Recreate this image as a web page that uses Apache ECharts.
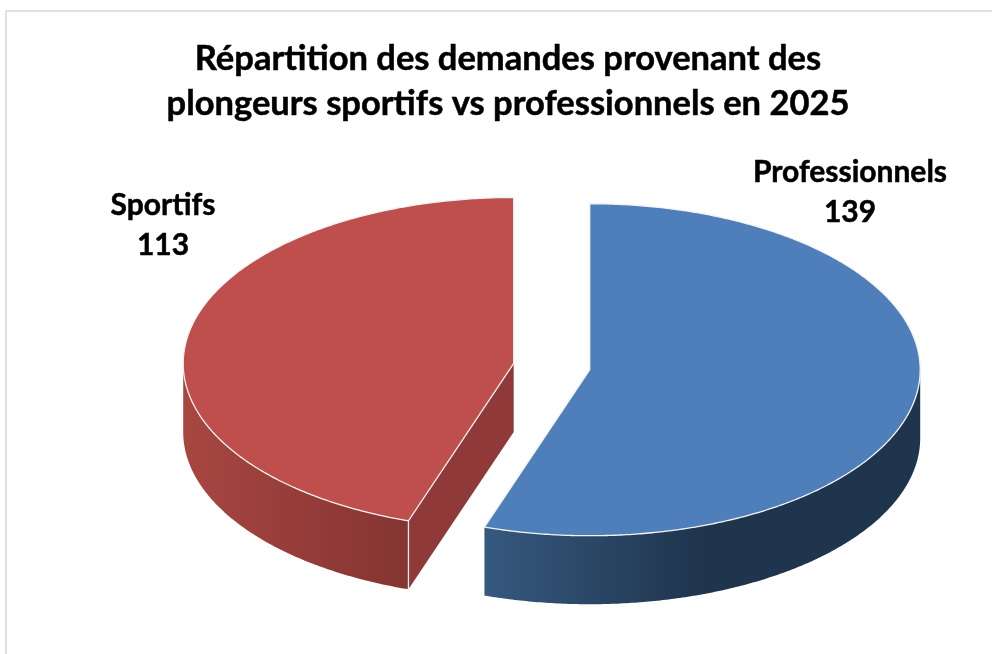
<!DOCTYPE html>
<html>
<head>
<meta charset="utf-8">
<style>html,body{margin:0;padding:0;background:#fff}#c{width:992px;height:654px}</style>
<script src="https://cdn.jsdelivr.net/npm/echarts@6/dist/echarts.min.js"></script>
</head>
<body>
<div id="c"></div>
<script>
const titleLines = ["Répartition des demandes provenant des", "plongeurs sportifs vs professionnels en 2025"];
const categories = ["Professionnels", "Sportifs"];
const values = [139, 113];

const FONT = 'Lato, "Noto Sans", sans-serif';
const palette = {
  Professionnels: {top: '#4e7fba', cut: '#3a5f8c', wall: [[0, '#36597f'], [0.5, '#1f344d'], [1, '#1f344d']]},
  Sportifs: {top: '#be4f4c', cut: '#8f3a38', wall: [[0, '#a84641'], [1, '#843432']]}
};
const labelAnchor = {Professionnels: [850, 192], Sportifs: [163, 225]};
const pie = {cx: 551.7, cy: 366.6, rx: 330.5, ry: 166, depth: 68.5, explode: 38.5};

const total = values.reduce((a, b) => a + b, 0);
const RAD = Math.PI / 180;

function renderSlice(params, api) {
  const i = params.dataIndex;
  const name = categories[i];
  const colors = palette[name];
  let before = 0;
  for (let k = 0; k < i; k++) before += values[k];
  const a0 = before / total * 360;
  const a1 = (before + values[i]) / total * 360;
  const mid = (a0 + a1) / 2 * RAD;
  const ox = pie.cx + Math.sin(mid) * pie.explode;
  const oy = pie.cy - Math.cos(mid) * pie.explode * pie.ry / pie.rx;
  const pt = (deg, dz) => [ox + Math.sin(deg * RAD) * pie.rx, oy - Math.cos(deg * RAD) * pie.ry + (dz || 0)];
  const arc = (from, to, dz) => {
    const out = [];
    const n = Math.max(2, Math.ceil(Math.abs(to - from) * 2));
    for (let s = 0; s <= n; s++) out.push(pt(from + (to - from) * s / n, dz));
    return out;
  };
  const children = [];
  const d = pie.depth;

  // Cut faces (visible only when they look toward the viewer)
  const apex = [ox, oy], apexLow = [ox, oy + d];
  const startVisible = a0 > 180 && a0 < 360;
  const endVisible = a1 > 0 && a1 < 180;
  if (startVisible) {
    children.push({type: 'polygon', shape: {points: [apex, pt(a0), pt(a0, d), apexLow]}, style: {fill: colors.cut}});
  }
  if (endVisible) {
    children.push({type: 'polygon', shape: {points: [apex, pt(a1), pt(a1, d), apexLow]}, style: {fill: colors.cut}});
  }

  // Front wall between 90 deg and 270 deg
  const w0 = Math.max(a0, 90), w1 = Math.min(a1, 270);
  if (w1 > w0) {
    const pts = arc(w0, w1, 0).concat(arc(w1, w0, d));
    children.push({
      type: 'polygon', shape: {points: pts},
      style: {fill: new echarts.graphic.LinearGradient(0, 0, 1, 0,
        colors.wall.map(s => ({offset: s[0], color: s[1]})))}
    });
  }

  // Vertical highlight on the visible cut corner
  if (startVisible) {
    children.push({type: 'line', shape: {x1: pt(a0)[0], y1: pt(a0)[1], x2: pt(a0, d)[0], y2: pt(a0, d)[1]},
      style: {stroke: '#eeeeee', lineWidth: 1.3}});
  }

  // Top face
  children.push({
    type: 'polygon',
    shape: {points: [apex].concat(arc(a0, a1, 0))},
    style: {fill: colors.top, stroke: '#f2f2f2', lineWidth: 1.3, lineJoin: 'miter'}
  });

  // Label
  const anchor = labelAnchor[name];
  children.push({
    type: 'text',
    style: {
      text: name + '\n' + values[i], x: anchor[0], y: anchor[1],
      align: 'center', verticalAlign: 'middle',
      font: 'bold 30px ' + FONT, lineHeight: 40, fill: '#000',
      stroke: '#000', lineWidth: 0.5
    }
  });
  return {type: 'group', children};
}

const chart = echarts.init(document.getElementById('c'), null, {renderer: 'canvas'});
chart.setOption({
  animation: false,
  backgroundColor: '#ffffff',
  title: {
    text: titleLines.join('\n'),
    left: 503, top: 31, textAlign: 'center',
    textStyle: {fontFamily: FONT, fontWeight: 'bold', fontSize: 34.5, lineHeight: 45, color: '#000',
      textBorderColor: '#000', textBorderWidth: 0.5}
  },
  graphic: [{
    type: 'polyline', silent: true, z: -1,
    shape: {points: [[6, 654], [6, 11], [992, 11]]},
    style: {stroke: '#e0e0e0', lineWidth: 2, fill: null}
  }],
  series: [{
    type: 'custom',
    coordinateSystem: 'none',
    renderItem: renderSlice,
    data: categories.map((c, i) => ({name: c, value: values[i]}))
  }]
});
</script>
</body>
</html>
